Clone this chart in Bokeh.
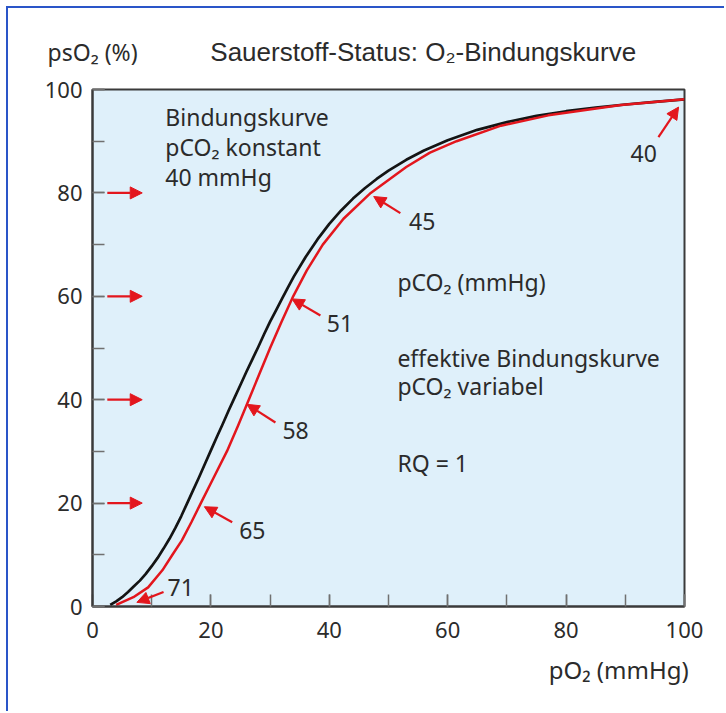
from bokeh.plotting import figure
from bokeh.models import Label, Arrow, NormalHead, SingleIntervalTicker, Range1d
from bokeh.embed import file_html
from bokeh.resources import INLINE

# --- data -------------------------------------------------------------------
# Bindungskurve, pCO2 konstant 40 mmHg (black)
po2_konstant = [3, 4, 5, 6, 7, 8, 9, 10, 11, 12, 13, 14, 15, 16, 17, 18, 19, 20,
                21, 22, 23, 24, 25, 26, 27, 28, 29, 30, 31, 32, 33, 34, 36, 38, 40,
                42, 44, 46, 48, 50, 53, 56, 60, 65, 70, 75, 80, 85, 90, 95, 100]
so2_konstant = [0.3, 1.0, 1.8, 2.8, 3.9, 5.0, 6.3, 7.8, 9.4, 11.2, 13.1, 15.2, 17.5,
                20.0, 22.5, 25.0, 27.6, 30.2, 32.8, 35.3, 37.9, 40.4, 42.9, 45.4, 47.8,
                50.2, 52.7, 55.1, 57.3, 59.5, 61.7, 63.8, 67.6, 71.0, 74.0, 76.6, 78.9,
                80.9, 82.7, 84.3, 86.4, 88.2, 90.2, 92.2, 93.7, 94.9, 95.8, 96.5, 97.1,
                97.6, 98.1]

# effektive Bindungskurve, pCO2 variabel (red)
po2_effektiv = [4.0, 6.9, 9.4, 11.8, 13.5, 15.1, 16.7, 18.3, 20.5, 22.7, 24.6, 26.4,
                28.2, 30.0, 31.9, 33.9, 36.2, 38.9, 42.4, 47.0, 53.0, 57.0, 61.5, 69.0,
                77.0, 89.3, 100.0]
so2_effektiv = [0.3, 1.8, 3.7, 7.0, 10.0, 12.8, 16.3, 20.0, 25.0, 30.0, 35.0, 40.0,
                45.0, 50.0, 55.0, 60.0, 65.0, 70.0, 75.0, 80.0, 85.0, 87.8, 90.0, 93.0,
                95.0, 97.0, 98.1]

# pCO2 (mmHg) markers on the red curve
pco2_labels = ["40", "45", "51", "58", "65", "71"]

y_marks = [20, 40, 60, 80]

# --- styling ------------------------------------------------------------------
RED = "#e3161d"
BLACK = "#141414"
TXT = "#2b2b2b"
FONT = "Noto Sans"
FS = "23px"

p = figure(width=718, height=705,
           x_range=Range1d(0, 100), y_range=Range1d(0, 100),
           output_backend="svg", toolbar_location=None,
           min_border_left=84, min_border_right=42,
           min_border_top=81, min_border_bottom=107)
p.styles = {"margin-left": "6px", "margin-top": "6px",
            "border-left": "2px solid #2a55c8", "border-top": "2px solid #2a55c8"}

p.background_fill_color = "#dff0fa"
p.border_fill_color = "white"
p.outline_line_color = "#3a3a3a"
p.outline_line_width = 2
p.grid.visible = False

for ax, standoff in ((p.xaxis[0], 15), (p.yaxis[0], 10)):
    ax.ticker = SingleIntervalTicker(interval=20, num_minor_ticks=2)
    ax.axis_line_color = "#3a3a3a"
    ax.axis_line_width = 2
    ax.major_tick_in = 12
    ax.major_tick_out = 0
    ax.minor_tick_in = 12
    ax.minor_tick_out = 0
    ax.major_tick_line_color = "#707070"
    ax.minor_tick_line_color = "#707070"
    ax.major_tick_line_width = 1.5
    ax.minor_tick_line_width = 1.5
    ax.major_label_text_font = FONT
    ax.major_label_text_font_size = "22px"
    ax.major_label_text_color = TXT
    ax.major_label_standoff = standoff

# curves
p.line(po2_konstant, so2_konstant, line_color=BLACK, line_width=2.7, line_join="round")
p.line(po2_effektiv, so2_effektiv, line_color=RED, line_width=2.5, line_join="round")

# arrows on the y axis
for yv in y_marks:
    p.add_layout(Arrow(end=NormalHead(size=12, fill_color=RED, line_color=RED, line_width=1),
                       x_start=2.5, y_start=yv, x_end=8.4, y_end=yv,
                       line_color=RED, line_width=2.2))

# arrows pointing at the red curve: (tail x, tail y, tip x, tip y, label x, label y)
arrow_geo = [
    (95.6, 90.8, 99.0, 96.6, 93.1, 87.6),
    (52.0, 76.1, 47.5, 79.3, 55.7, 74.5),
    (38.5, 56.3, 33.7, 59.5, 41.8, 54.7),
    (30.9, 35.6, 26.1, 39.1, 34.3, 34.0),
    (23.6, 16.3, 18.9, 19.3, 27.0, 14.7),
    (12.0, 2.8, 7.5, 0.8, 14.9, 3.7),
]
for lab, (xs, ys, xe, ye, lx, ly) in zip(pco2_labels, arrow_geo):
    p.add_layout(Arrow(end=NormalHead(size=12, fill_color=RED, line_color=RED, line_width=1),
                       x_start=xs, y_start=ys, x_end=xe, y_end=ye,
                       line_color=RED, line_width=2.2))
    p.add_layout(Label(x=lx, y=ly, text=lab, text_align="center", text_baseline="middle",
                       text_font=FONT, text_font_size=FS, text_color=TXT))

# texts inside the frame
inner = [
    ("Bindungskurve", 12.3, 94.6),
    ("pCO\u2082 konstant", 12.3, 88.8),
    ("40 mmHg", 12.3, 83.1),
    ("pCO\u2082 (mmHg)", 51.5, 62.8),
    ("effektive Bindungskurve", 51.5, 48.0),
    ("pCO\u2082 variabel", 51.5, 42.7),
    ("RQ = 1", 51.5, 27.7),
]
for t, x, y in inner:
    p.add_layout(Label(x=x, y=y, text=t, text_align="left", text_baseline="middle",
                       text_font=FONT, text_font_size=FS, text_color=TXT))

# axis titles and chart title (placed in side panels so they are not clipped)
p.add_layout(Label(x=-7.6, y=107.2, text="psO\u2082 (%)", text_align="left", text_baseline="middle",
                   text_font=FONT, text_font_size=FS, text_color=TXT), "above")
p.add_layout(Label(x=19.9, y=107.2, text="Sauerstoff-Status: O\u2082-Bindungskurve",
                   text_align="left", text_baseline="middle",
                   text_font="Liberation Sans", text_font_size="26px", text_color=TXT), "above")
p.add_layout(Label(x=100.7, y=-12.2, text="pO\u2082 (mmHg)", text_align="right", text_baseline="middle",
                   text_font=FONT, text_font_size="24px", text_color=TXT), "below")

open("out.html", "w").write(file_html(p, INLINE))
